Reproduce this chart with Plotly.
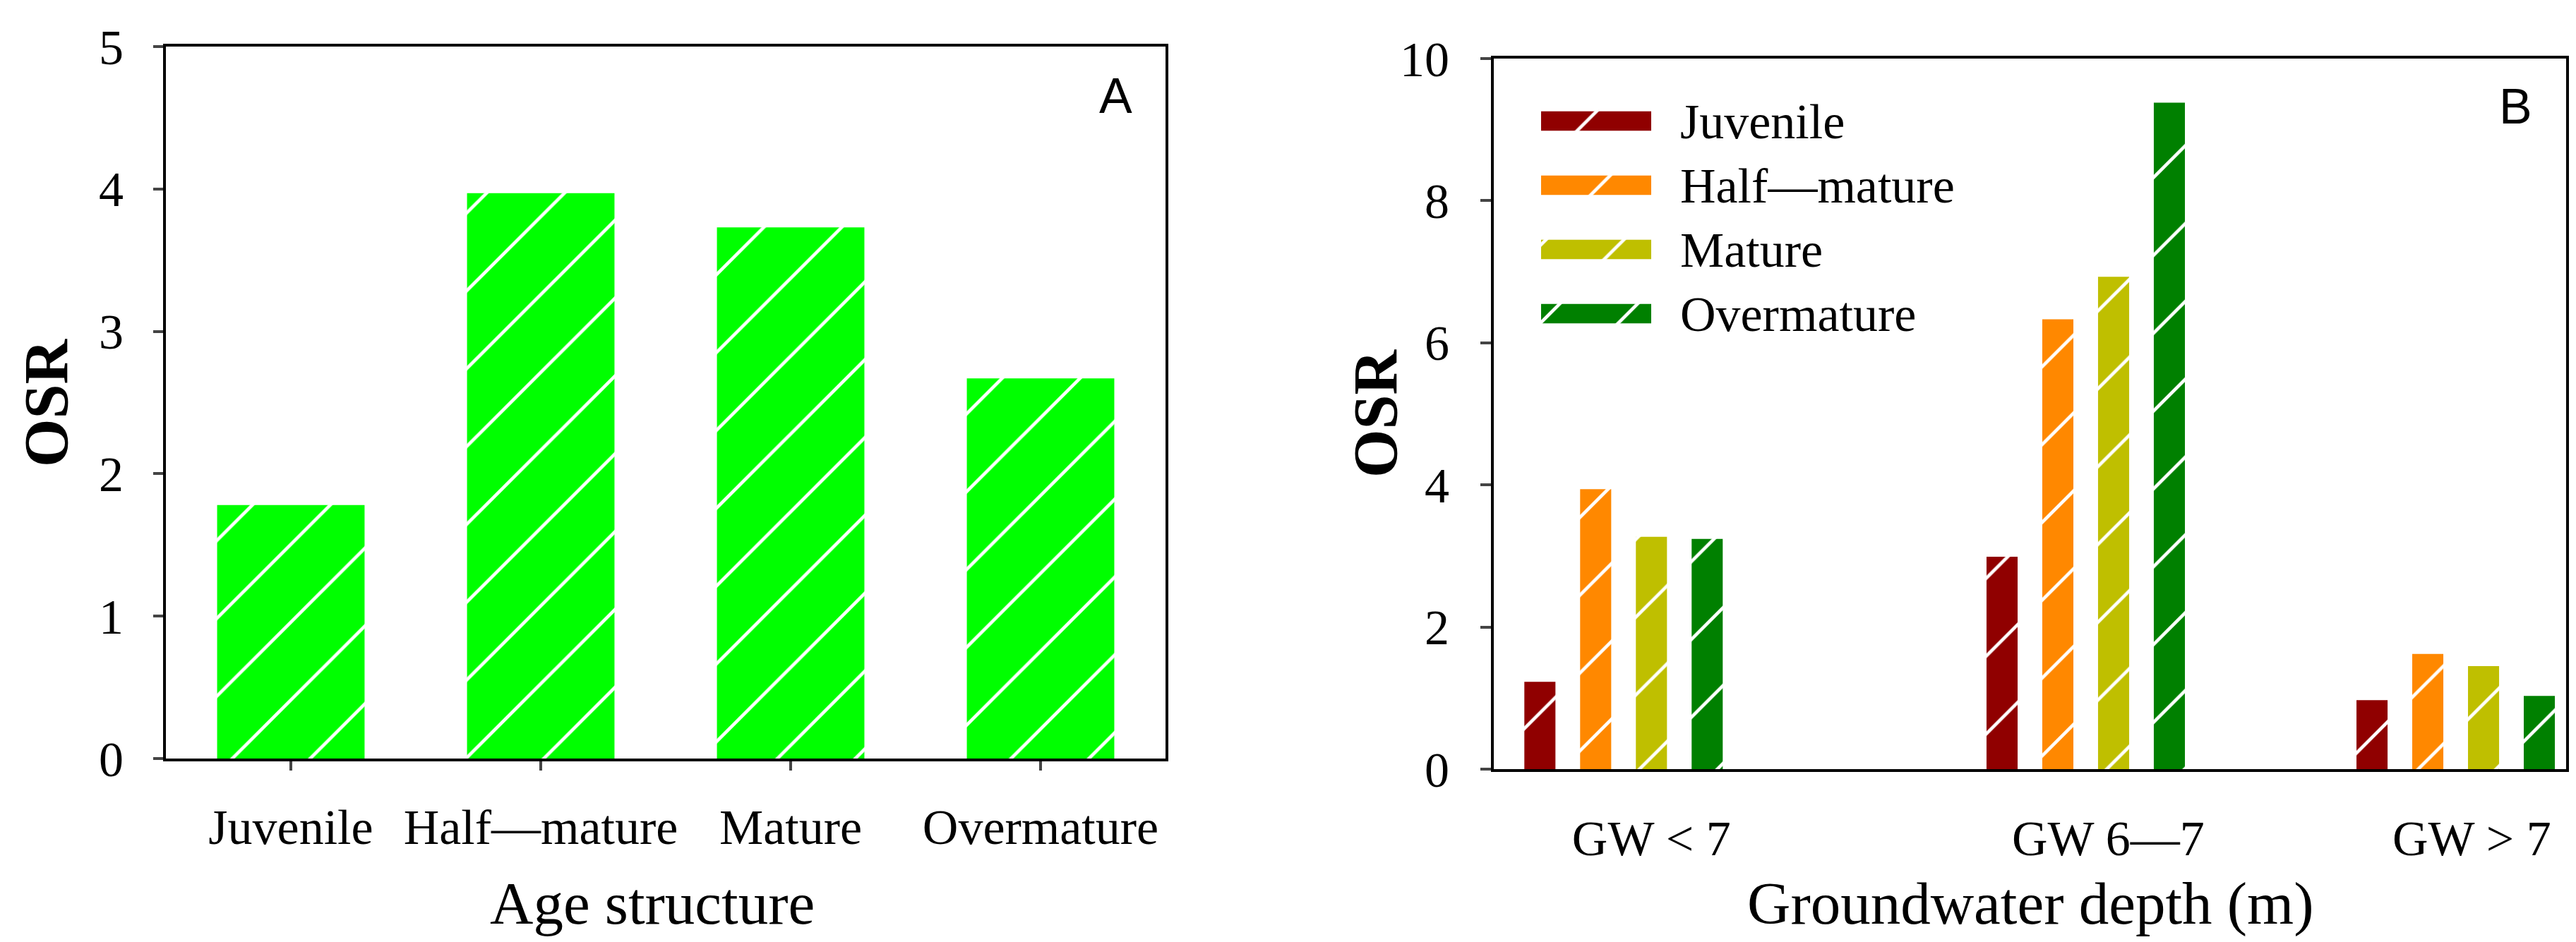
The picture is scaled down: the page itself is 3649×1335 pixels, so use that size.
import plotly.graph_objects as go

# panel A: OSR by age structure
age_classes = ["Juvenile", "Half—mature", "Mature", "Overmature"]
osr_by_age = [1.78, 3.97, 3.73, 2.67]

# panel B: OSR by groundwater depth, one series per age class
gw_classes = ["GW < 7", "GW 6—7", "GW > 7"]
osr_juvenile = [1.23, 2.99, 0.97]
osr_half_mature = [3.94, 6.33, 1.62]
osr_mature = [3.27, 6.93, 1.45]
osr_overmature = [3.24, 9.38, 1.03]

# layout constants (not data)
W, H = 3649, 1335
group_x = [1.21, 5.52, 8.97]          # centres of the three groups on panel B's x axis
label_x = [1.47, 5.73, 9.12]          # where the group labels sit
age_color = "#00FF00"
series_colors = ["#900000", "#FF8800", "#BFBF00", "#008000"]
bar_pitch, bar_w = 0.52, 0.29

SERIF = "Liberation Serif"
SANS = "Liberation Sans"


def px_x(p):
    return p / W


def px_y(p):
    return 1 - p / H


def hatch(bg, size=78):
    return dict(shape="/", fgcolor="white", bgcolor=bg, size=size,
                solidity=0.06, fillmode="replace")


fig = go.Figure()

# panel A
fig.add_trace(go.Bar(
    x=age_classes, y=osr_by_age, width=0.59,
    marker=dict(color=age_color, line=dict(width=0), pattern=hatch(age_color)),
    xaxis="x", yaxis="y", showlegend=False,
))

# panel B
series = [osr_juvenile, osr_half_mature, osr_mature, osr_overmature]
for i, (name, vals) in enumerate(zip(age_classes, series)):
    fig.add_trace(go.Bar(
        x=group_x, y=vals, name=name, width=bar_w,
        offset=(i - 1.5) * bar_pitch - bar_w / 2,
        marker=dict(color=series_colors[i], line=dict(width=0),
                    pattern=hatch(series_colors[i])),
        xaxis="x2", yaxis="y2", showlegend=False,
    ))

# legend for panel B: one hatched horizontal swatch per series on a small axis pair
for name, color in zip(age_classes, series_colors):
    fig.add_trace(go.Bar(
        x=[1], y=[name], orientation="h", width=0.3,
        marker=dict(color=color, line=dict(width=0), pattern=hatch(color)),
        xaxis="x3", yaxis="y3", showlegend=False, hoverinfo="skip",
    ))

tick_font = dict(family=SERIF, size=70, color="black")
axis_common = dict(
    showline=True, linewidth=4, linecolor="black", mirror=True,
    showgrid=False, zeroline=False, tickfont=tick_font, automargin=False,
)

fig.update_layout(
    width=W, height=H,
    margin=dict(l=0, r=0, t=0, b=0, pad=0, autoexpand=False),
    paper_bgcolor="white", plot_bgcolor="white",
    font=dict(family=SERIF, color="black"),
    barmode="overlay",
    xaxis=dict(
        axis_common, domain=[px_x(227), px_x(1643)], anchor="y",
        range=[-0.5, 3.5], ticks="outside", ticklen=13, tickwidth=4,
        ticklabelstandoff=20,
    ),
    yaxis=dict(
        axis_common, domain=[px_y(1067), px_y(58)], anchor="x",
        range=[0, 5], dtick=1, ticks="outside", ticklen=14, tickwidth=4,
        ticklabelstandoff=28,
    ),
    xaxis2=dict(
        axis_common, domain=[px_x(2108), px_x(3627)], anchor="y2",
        range=[0, 10], tickvals=label_x, ticktext=gw_classes, ticks="",
        ticklabelstandoff=34,
    ),
    yaxis2=dict(
        axis_common, domain=[px_y(1082), px_y(75)], anchor="x2",
        range=[0, 10], dtick=2, ticks="outside", ticklen=15, tickwidth=4,
        ticklabelstandoff=30,
    ),
    xaxis3=dict(
        domain=[px_x(2175), px_x(2331)], anchor="y3", range=[0, 1],
        visible=False, automargin=False,
    ),
    yaxis3=dict(
        domain=[px_y(482), px_y(118)], anchor="x3", side="right",
        type="category", categoryorder="array", categoryarray=age_classes,
        range=[3.5, -0.5], showline=False, showgrid=False, zeroline=False,
        ticks="", tickfont=tick_font, ticklabelstandoff=40, automargin=False,
    ),
)

title_font = dict(family=SERIF, size=85, color="black")
osr_font = dict(family=SERIF, size=88, color="black", weight="bold")
panel_font = dict(family=SANS, size=70, color="black")

annotations = [
    dict(text="Age structure", x=px_x(916), y=px_y(1272), font=title_font),
    dict(text="Groundwater depth (m)", x=px_x(2868), y=px_y(1272), font=title_font),
    dict(text="<b>OSR</b>", x=px_x(57), y=px_y(563), textangle=-90, font=osr_font),
    dict(text="<b>OSR</b>", x=px_x(1940), y=px_y(578), textangle=-90, font=osr_font),
    dict(text="A", x=px_x(1572), y=px_y(128), font=panel_font),
    dict(text="B", x=px_x(3555), y=px_y(143), font=panel_font),
]
for a in annotations:
    fig.add_annotation(xref="paper", yref="paper", showarrow=False,
                       xanchor="center", yanchor="middle", **a)

fig.write_html("out.html")
